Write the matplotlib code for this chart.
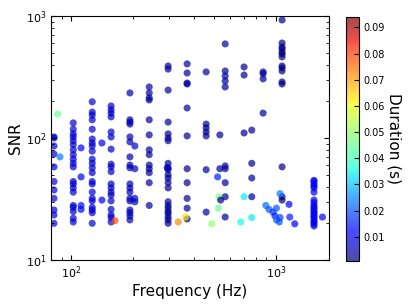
import numpy as np
import matplotlib.pyplot as plt
from matplotlib.ticker import NullFormatter, LogLocator

# columns of events: centre frequency (Hz), SNR values, typical duration (s)
col_freq = [82.6, 102.6, 127, 157, 194, 241, 298, 369, 457, 566, 700, 763, 867, 1073, 1536]
col_snr = [
    [102, 100, 86, 74, 58, 44, 37.5, 32, 25.7, 23.4, 20],
    [133, 118, 108, 102, 95, 88, 80, 73, 67, 62, 58, 44, 42, 39, 36, 28, 27, 25, 22, 20.5],
    [198, 163, 154, 141, 118, 98, 91, 86, 78, 67, 62, 57, 52, 44, 42, 36, 32, 30.5, 27, 25.7, 24.4, 20],
    [183, 170, 160, 149, 112, 102, 81, 61, 58, 53, 42, 39, 36, 34, 30.5, 26, 23.4, 22.3, 20.5],
    [234, 141, 135, 130, 102, 93, 70, 60, 57, 42, 39, 36, 32, 30.5, 25.7, 24.4, 23, 21.3],
    [262, 234, 213, 205, 141, 106, 80, 73, 60, 56, 52, 43, 28],
    [389, 367, 247, 135, 108, 100, 95, 62, 57, 55, 50, 47, 43, 39, 30, 28, 26.6, 25, 24, 22.5, 21.3, 20],
    [405, 341, 282, 277, 176, 104, 56, 43, 32, 26.6, 21.7],
    [348, 130, 121, 112, 104, 55, 24.7],
    [590, 354, 322, 293, 262, 59, 56, 43, 33, 22.5],
    [382, 328, 110],
    [116, 62, 47, 33],
    [348, 336, 305, 160],
    [927, 600, 557, 537, 507, 488, 462, 389, 375, 354, 288, 277, 58, 33, 31],
    [45, 44, 42, 40.5, 39, 36, 31, 29.5, 28, 27, 26, 25, 24.4, 23.4, 22.7, 22, 21, 20.4, 19.7, 19],
]
col_dur = [0.009, 0.008, 0.008, 0.007, 0.005, 0.004, 0.003, 0.003, 0.003, 0.003,
           0.003, 0.003, 0.003, 0.002, 0.010]

# scattered events off the main columns
extra_freq = [86, 88.4, 112, 112, 112, 112, 141.6, 141.6, 164, 205, 205, 205, 205, 295,
              362, 334, 520, 528, 538, 525, 487, 533, 533, 700, 763, 674, 1049, 894,
              927, 1007, 968, 990, 1007, 1040, 1049, 1160, 1170, 1237, 1690]
extra_snr = [157, 70, 83, 48, 28, 26, 91, 31, 21, 86, 56, 32, 30, 57,
             22.5, 20.5, 48, 33, 31, 26.6, 19.8, 106, 56, 33, 22.3, 20.5, 35, 28,
             26, 26.6, 24.7, 23, 21.3, 20.5, 22.3, 28.6, 22.5, 19.8, 22.5]
extra_dur = [0.045, 0.024, 0.013, 0.012, 0.014, 0.012, 0.012, 0.012, 0.078, 0.008, 0.006, 0.007, 0.006, 0.006,
             0.063, 0.072, 0.016, 0.047, 0.002, 0.045, 0.05, 0.003, 0.003, 0.034, 0.034, 0.036, 0.024, 0.022,
             0.02, 0.02, 0.018, 0.015, 0.022, 0.02, 0.018, 0.012, 0.015, 0.012, 0.012]

freq = []
snr = []
dur = []
for f, s, d in zip(col_freq, col_snr, col_dur):
    freq += [f] * len(s)
    snr += s
    dur += [d] * len(s)
freq += extra_freq
snr += extra_snr
dur += extra_dur

fig = plt.figure(figsize=(4.09, 3.07), dpi=100)
ax = fig.add_axes([0.125, 0.153, 0.679, 0.795])
sc = ax.scatter(freq, snr, c=dur, cmap='jet', vmin=0.0008, vmax=0.094,
                s=26, alpha=0.7, edgecolors='none')
ax.set_xscale('log')
ax.set_yscale('log')
ax.set_xlim(80, 1815)
ax.set_ylim(10, 1000)
for axis in (ax.xaxis, ax.yaxis):
    axis.set_major_locator(LogLocator(base=10))
    axis.set_minor_locator(LogLocator(base=10, subs=np.arange(2, 10)))
    axis.set_minor_formatter(NullFormatter())
ax.set_xlabel('Frequency (Hz)', fontsize=11, labelpad=2)
ax.set_ylabel('SNR', fontsize=11, labelpad=2)
ax.tick_params(which='both', direction='in', top=True, right=True, labelsize=8)

cax = fig.add_axes([0.846, 0.150, 0.031, 0.795])
cb = fig.colorbar(sc, cax=cax, ticks=np.arange(0.01, 0.095, 0.01))
cb.ax.tick_params(labelsize=7, direction='in')
cb.set_label('Duration (s)', rotation=270, fontsize=11, labelpad=12)
cb.outline.set_linewidth(0.8)

fig.savefig('out.png', dpi=100)
